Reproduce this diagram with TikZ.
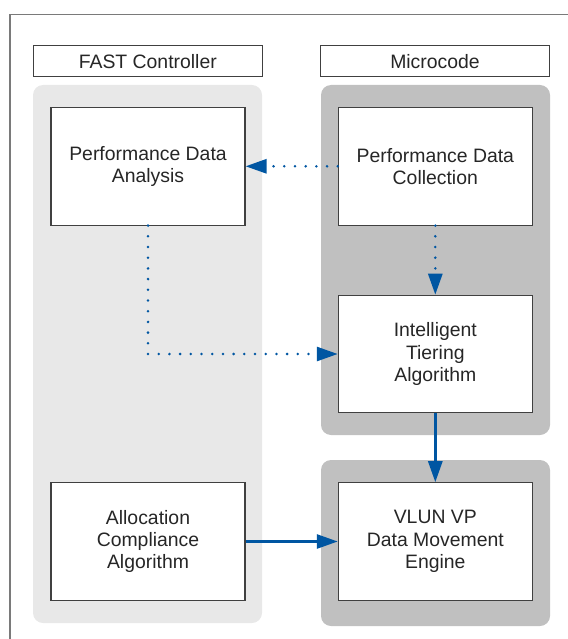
\documentclass[tikz,border=0pt]{standalone}
\usepackage{fontspec}
\setmainfont{Liberation Sans}
\usetikzlibrary{arrows.meta}

\definecolor{flowblue}{HTML}{0056A2}
\definecolor{lightpanel}{HTML}{E8E8E8}
\definecolor{darkpanel}{HTML}{C0C0C0}
\definecolor{framegray}{HTML}{7A7A7A}
\definecolor{textgray}{HTML}{262626}

\tikzset{
    box/.style={draw=black!75,line width=1.1pt,fill=white,inner sep=0pt,
        minimum width=194pt,minimum height=117.5pt,align=center,
        text=textgray,font=\fontsize{19.4}{22.3}\selectfont},
    titlebox/.style={box,minimum width=229pt,minimum height=30.7pt},
    flow/.style={flowblue,line width=2.8pt,-{Triangle[length=21pt,width=14pt]}},
    dotflow/.style={flow,line cap=round,dash pattern=on 0pt off 10.7pt},
}

\begin{document}
\begin{tikzpicture}[x=1pt,y=-1pt]
    \useasboundingbox(0,0)rectangle(567,639);
    \draw[framegray,line width=1.3pt](10,650)--(10,14.3)--(580,14.3);

    \fill[lightpanel,rounded corners=10pt](33,85)rectangle(262,623);
    \fill[darkpanel,rounded corners=10pt](321,85)rectangle(550,435);
    \fill[darkpanel,rounded corners=10pt](321,460)rectangle(550,626);

    \node[titlebox](fast)at(147.8,61.3){FAST Controller};
    \node[titlebox](micro)at(435,61.3){Microcode};

    \node[box](analysis)at(148,166.3){Performance Data\\Analysis};
    \node[box](collection)at(435.3,166.3){Performance Data\\Collection};
    \node[box](tiering)at(435.3,354){Intelligent\\Tiering\\Algorithm};
    \node[box](compliance)at(148,541.5){Allocation\\Compliance\\Algorithm};
    \node[box](engine)at(435.3,541.5){VLUN VP\\Data Movement\\Engine};

    \draw[dotflow](collection)--(analysis);
    \draw[dotflow](collection)--(tiering);
    \draw[dotflow](analysis.south)|-(tiering.west);
    \draw[flow](tiering)--(engine);
    \draw[flow](compliance)--(engine);
\end{tikzpicture}
\end{document}
